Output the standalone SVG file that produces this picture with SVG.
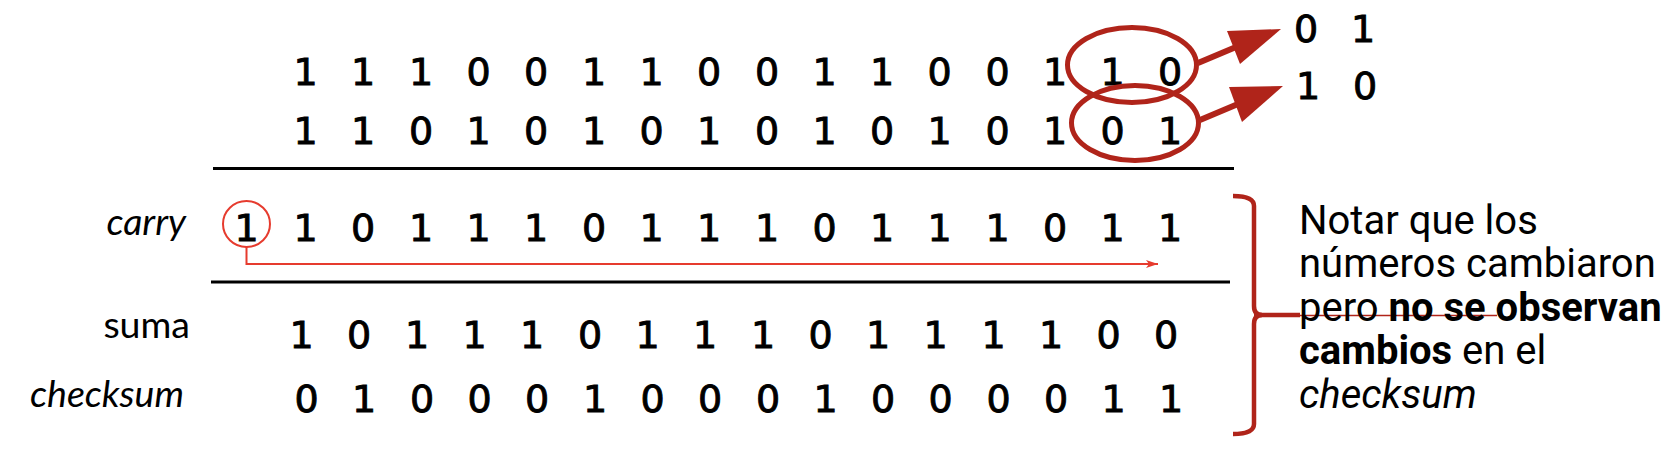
<svg xmlns="http://www.w3.org/2000/svg" width="1672" height="452" viewBox="0 0 1672 452">
<style>
.d{font-family:"DejaVu Sans",sans-serif;font-size:38px;fill:#000;stroke:#000;stroke-width:0.9;text-anchor:middle}
.lbl{font-family:Lato,"Liberation Sans",sans-serif;font-size:37.5px;fill:#000;text-anchor:end}
.it{font-style:italic}
.note{font-family:Roboto,"Liberation Sans",sans-serif;font-size:40px;fill:#000}
.dark{stroke:#b0241a;fill:none}
.rule{stroke:#000;stroke-width:3}
</style>
<defs>
<marker id="ah" viewBox="0 0 12 8" refX="12" refY="4" markerWidth="12" markerHeight="8" markerUnits="userSpaceOnUse" orient="auto">
<path d="M0,0 L12,4 L0,8 L3,4 Z" fill="#e63b2e"/>
</marker>
</defs>
<rect width="1672" height="452" fill="#fff"/>

<g id="row1"><text class="d" x="305.5 363 421 478.5 536 594 651.5 709 767 824.5 882 939.5 997.5 1055 1112.5 1170" y="85">1110011001100110</text></g>
<g id="row2"><text class="d" x="305.5 363 421 478.5 536 594 651.5 709 767 824.5 882 939.5 997.5 1055 1112.5 1170" y="144">1101010101010101</text></g>

<g id="rules">
<line class="rule" x1="213" y1="168.5" x2="1234" y2="168.5"/>
<line class="rule" x1="211" y1="282" x2="1230" y2="282"/>
</g>

<g id="carry">
<text class="lbl it" x="186" y="235">carry</text>
<text class="d" x="246.5 305.5 363 421 478.5 536 594 651.5 709 767 824.5 882 939.5 997.5 1055 1112.5 1170" y="241">11011101110111011</text>
<ellipse cx="246.5" cy="224" rx="23.5" ry="23" fill="none" stroke="#e63b2e" stroke-width="2"/>
</g>

<g id="suma">
<text class="lbl" x="190" y="338">suma</text>
<text class="d" x="301.5 359 417 474.5 532 590 647.5 705 763 820.5 878 935.5 993.5 1051 1108.5 1166" y="348">1011101110111100</text>
</g>

<g id="checksum">
<text class="lbl it" x="184" y="407">checksum</text>
<text class="d" x="306.5 364 422 479.5 537 595 652.5 710 768 825.5 883 940.5 998.5 1056 1113.5 1171" y="412">0100010001000011</text>
</g>

<g id="swap">
<text class="d" x="1306 1363" y="42">01</text>
<text class="d" x="1308 1365" y="99">10</text>
</g>

<g id="connectors">
<polyline points="246.5,247 246.5,264 1158,264" fill="none" stroke="#e63b2e" stroke-width="2" marker-end="url(#ah)"/>
<ellipse class="dark" cx="1132" cy="65" rx="64.5" ry="37.5" stroke-width="5"/>
<ellipse class="dark" cx="1135" cy="123" rx="63.5" ry="37.5" stroke-width="5"/>
<line class="dark" x1="1198" y1="63" x2="1236" y2="47" stroke-width="6"/>
<polygon points="1227,31 1281,29 1240,64" fill="#b0241a"/>
<line class="dark" x1="1200" y1="120" x2="1238" y2="104" stroke-width="6"/>
<polygon points="1229,87 1283,86 1242,122" fill="#b0241a"/>
<path class="dark" stroke-width="4.5" d="M1233,196 Q1254,196 1254,206 V306 Q1254,315 1262,315 Q1254,315 1254,324 V424 Q1254,434 1233,434"/>
<line class="dark" x1="1254" y1="315" x2="1300" y2="315" stroke-width="4.5"/>
<line class="dark" x1="1300" y1="315.5" x2="1497" y2="315.5" stroke-width="1.5"/>
</g>

<g id="note">
<text class="note" x="1299" y="233.5">Notar que los</text>
<text class="note" x="1299" y="277">números cambiaron</text>
<text class="note" x="1299" y="320.5">pero <tspan font-weight="bold">no se observan</tspan></text>
<text class="note" x="1299" y="364"><tspan font-weight="bold">cambios</tspan> en el</text>
<text class="note" x="1299" y="407.5"><tspan font-style="italic">checksum</tspan></text>
</g>
</svg>
